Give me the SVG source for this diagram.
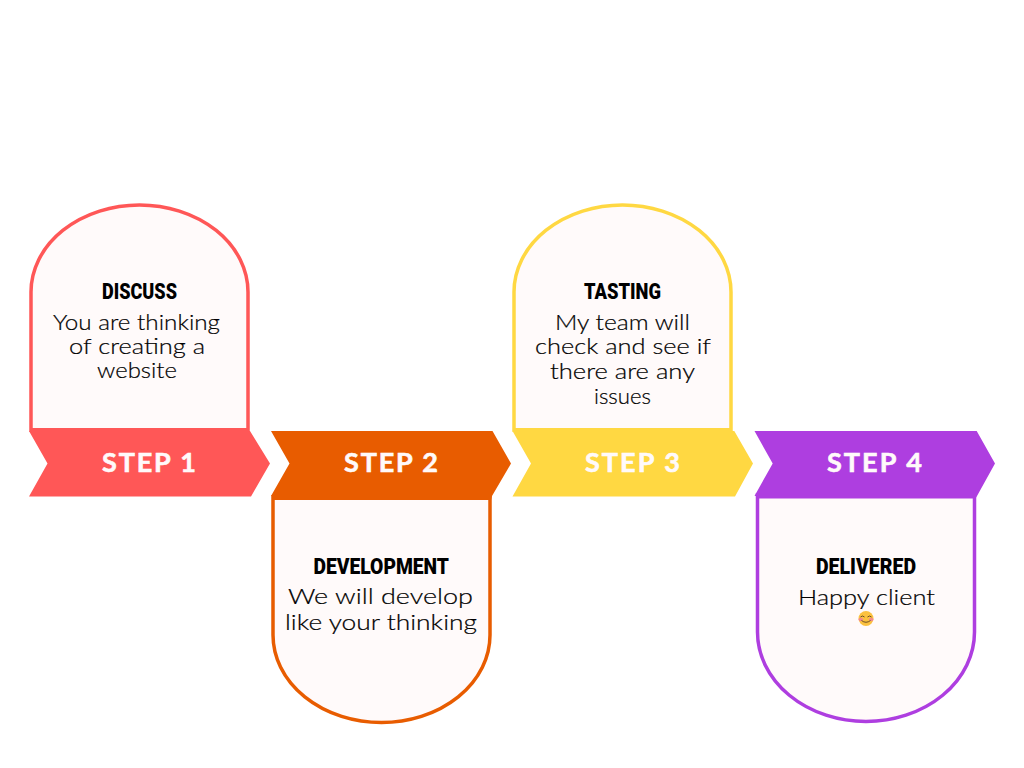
<svg xmlns="http://www.w3.org/2000/svg" width="1024" height="768" viewBox="0 0 1024 768">
<style>
.card{fill:#fffafa;stroke-width:3.5}
.head{font-family:"Roboto","Liberation Sans",sans-serif;font-weight:900;font-size:22px;fill:#000}
.body{font-family:"Lato","Open Sans",sans-serif;font-weight:300;font-size:22px;fill:#000;stroke:#000;stroke-width:.2}
.step{font-family:"Lato","Liberation Sans",sans-serif;font-weight:700;font-size:27px;fill:#fffafa;stroke:#fffafa;stroke-width:.6}
</style>
<rect width="1024" height="768" fill="#fff"/>
<g id="step1">
<path class="card" stroke="#ff5757" d="M31 430V292A108.500 87 0 0 1 248 292V430Z"/>
<path fill="#ff5757" d="M29 431H31V428H248V431H250L270 463.500L251 496.500H29L47.500 463.500Z"/>
<text class="step" x="102" y="471.500" textLength="94">STEP 1</text>
<text class="head" x="102" y="298.500" textLength="75" lengthAdjust="spacingAndGlyphs">DISCUSS</text>
<text class="body" x="53" y="329.500" textLength="167" lengthAdjust="spacingAndGlyphs">You are thinking</text>
<text class="body" x="69" y="354" textLength="136" lengthAdjust="spacingAndGlyphs">of creating a</text>
<text class="body" x="97" y="377.500" textLength="80" lengthAdjust="spacingAndGlyphs">website</text>
</g>
<g id="step2">
<path class="card" stroke="#e85c00" d="M273 497V635A108.500 87.500 0 0 0 490 635V497Z"/>
<path fill="#e85c00" d="M271 431H492.500L511 463.500L492 496L491 500H273L272 496H271L289.500 463.500Z"/>
<text class="step" x="344" y="471.500" textLength="94">STEP 2</text>
<text class="head" x="313.500" y="574" textLength="135.500" lengthAdjust="spacingAndGlyphs">DEVELOPMENT</text>
<text class="body" x="288" y="603.500" textLength="185" lengthAdjust="spacingAndGlyphs">We will develop</text>
<text class="body" x="285" y="629.500" textLength="192" lengthAdjust="spacingAndGlyphs">like your thinking</text>
</g>
<g id="step3">
<path class="card" stroke="#ffd842" d="M514 430V292A108.500 87 0 0 1 731 292V430Z"/>
<path fill="#ffd842" d="M512.500 431H514V428H731V431H734.300L753 463.500L735 496.500H512.500L531 463.500Z"/>
<text class="step" x="585" y="471.500" textLength="95">STEP 3</text>
<text class="head" x="584" y="298.500" textLength="77" lengthAdjust="spacingAndGlyphs">TASTING</text>
<text class="body" x="555" y="329.500" textLength="135" lengthAdjust="spacingAndGlyphs">My team will</text>
<text class="body" x="535" y="354" textLength="176" lengthAdjust="spacingAndGlyphs">check and see if</text>
<text class="body" x="550" y="378.500" textLength="145" lengthAdjust="spacingAndGlyphs">there are any</text>
<text class="body" x="594" y="403.500" textLength="57" lengthAdjust="spacingAndGlyphs">issues</text>
</g>
<g id="step4">
<path class="card" stroke="#ae3ee0" d="M757.500 495V632A108.500 89.500 0 0 0 974.500 632V495Z"/>
<path fill="#ae3ee0" d="M754.500 431H976.700L995 463.500L977 496L975.500 498.500H757.500L756 496H754.500L772.700 463.500Z"/>
<text class="step" x="827" y="471.500" textLength="95">STEP 4</text>
<text class="head" x="816" y="574" textLength="100" lengthAdjust="spacingAndGlyphs">DELIVERED</text>
<text class="body" x="798" y="604.500" textLength="137" lengthAdjust="spacingAndGlyphs">Happy client</text>
<g id="emoji">
<circle cx="866" cy="618.500" r="7.500" fill="#fbc13f"/>
<ellipse cx="860.800" cy="619.500" rx="2.300" ry="1.700" fill="#f48a8a"/>
<ellipse cx="871.200" cy="619.500" rx="2.300" ry="1.700" fill="#f48a8a"/>
<path d="M860.500 617q2-2 4 0M867.500 617q2-2 4 0M861.500 620.500q4.500 3.500 9 0" fill="none" stroke="#4a3320" stroke-width=".8"/>
</g>
</g>
<g id="connectors"/>
</svg>
